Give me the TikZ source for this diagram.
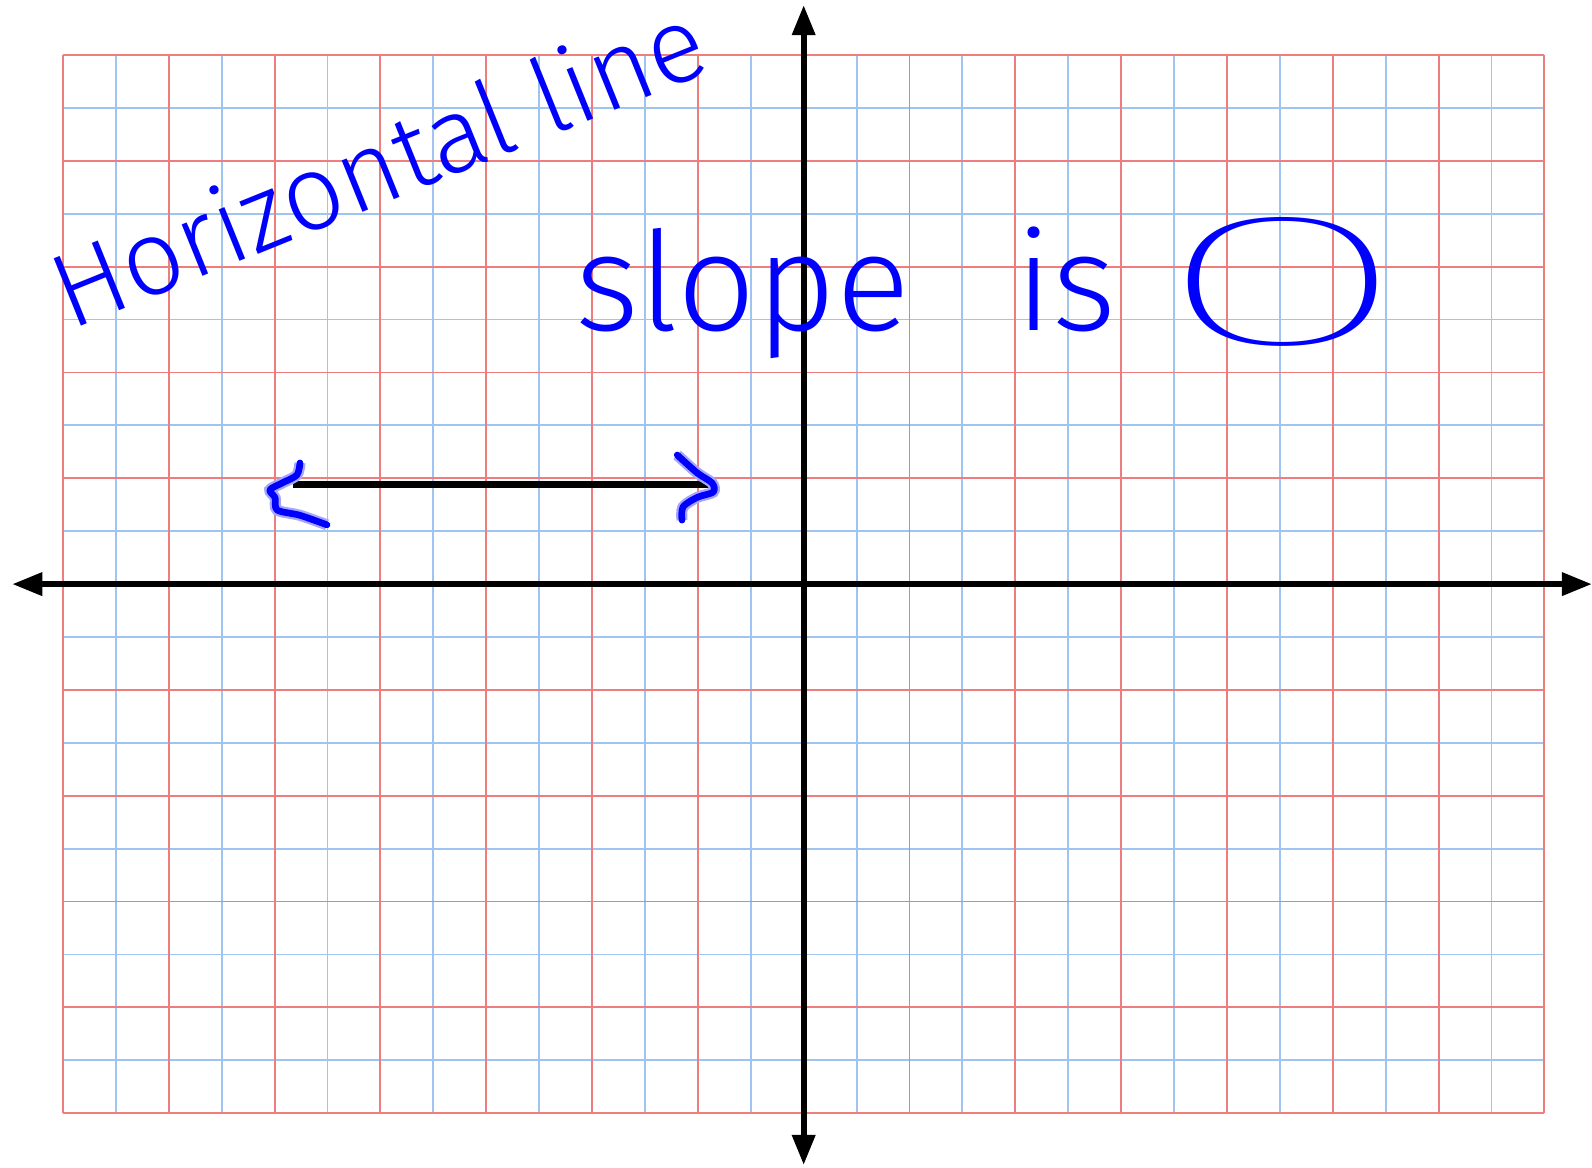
\documentclass[tikz,border=0pt]{standalone}
\usepackage{fontspec}
\setmainfont{Fira Sans Light}
\newfontfamily\thinfont{Fira Sans Thin}
\usepackage{tikz}
\usetikzlibrary{arrows.meta}
\definecolor{gridred}{RGB}{238,125,125}
\definecolor{gridblue}{RGB}{160,196,240}
\definecolor{penblue}{RGB}{0,0,255}
\tikzset{
  redline/.style  = {gridred, line width=1pt},
  blueline/.style = {gridblue, line width=1pt},
  axis/.style     = {{Triangle[length=0.57cm, width=0.42cm]}-{Triangle[length=0.57cm, width=0.42cm]},
                     line width=3.3pt},
  segment/.style  = {line width=3.5pt},
  pen/.style      = {penblue, line width=3.6pt, line cap=round, line join=round,
                     preaction={draw, penblue!35, line width=6pt}},
  hand/.style     = {text=penblue, inner sep=0pt},
}

\begin{document}
\begin{tikzpicture}

    \useasboundingbox (-15.19,-11.02) rectangle (14.90,11.04);

    % Grid (blue minor lines, red major lines)
    \foreach \x in {-13,-11,...,13} \draw[blueline] (\x,-10) -- (\x,10);
    \foreach \y in {-9,-7,...,9} \draw[blueline] (-14,\y) -- (14,\y);
    \foreach \x in {-14,-12,...,14} \draw[redline] (\x,-10) -- (\x,10);
    \foreach \y in {-10,-8,...,10} \draw[redline] (-14,\y) -- (14,\y);

    % Axes
    \coordinate (xl) at (-14.96,0);
    \coordinate (xr) at (14.90,0);
    \coordinate (yb) at (0,-10.98);
    \coordinate (yt) at (0,10.945);
    \draw[axis] (xl) -- (xr);
    \draw[axis] (yb) -- (yt);

    % Horizontal line y = 2
    \coordinate (lstart) at (-9.65,1.88);
    \coordinate (lend) at (-1.77,1.88);
    \draw[segment] (lstart) -- (lend);

    % Hand-drawn arrow heads
    \draw[pen] plot[smooth] coordinates {(-9.52,2.29) (-9.58,2.06) (-9.86,1.91)
        (-10.09,1.78) (-9.99,1.63) (-9.95,1.40) (-9.52,1.30) (-9.01,1.12)};
    \draw[pen] plot[smooth] coordinates {(-2.39,2.44) (-2.01,2.10) (-1.73,1.91)
        (-1.71,1.74) (-2.01,1.64) (-2.28,1.46) (-2.30,1.21)};

    % Handwritten labels
    \node[hand, rotate=22, font=\fontsize{57}{68}\selectfont]
        (title) at (-8.05,7.95) {Horizontal line};
    \node[hand, anchor=base west, font=\fontsize{74}{88}\selectfont]
        (slope) at (-4.32,4.8) {slope};
    \node[hand, anchor=base, font=\fontsize{74}{88}\selectfont]
        (is) at (4.95,4.8) {is};
    \node[hand] (zero) at (9.05,5.72) {\resizebox{4.95cm}{2.4cm}{\thinfont 0}};

\end{tikzpicture}
\end{document}
